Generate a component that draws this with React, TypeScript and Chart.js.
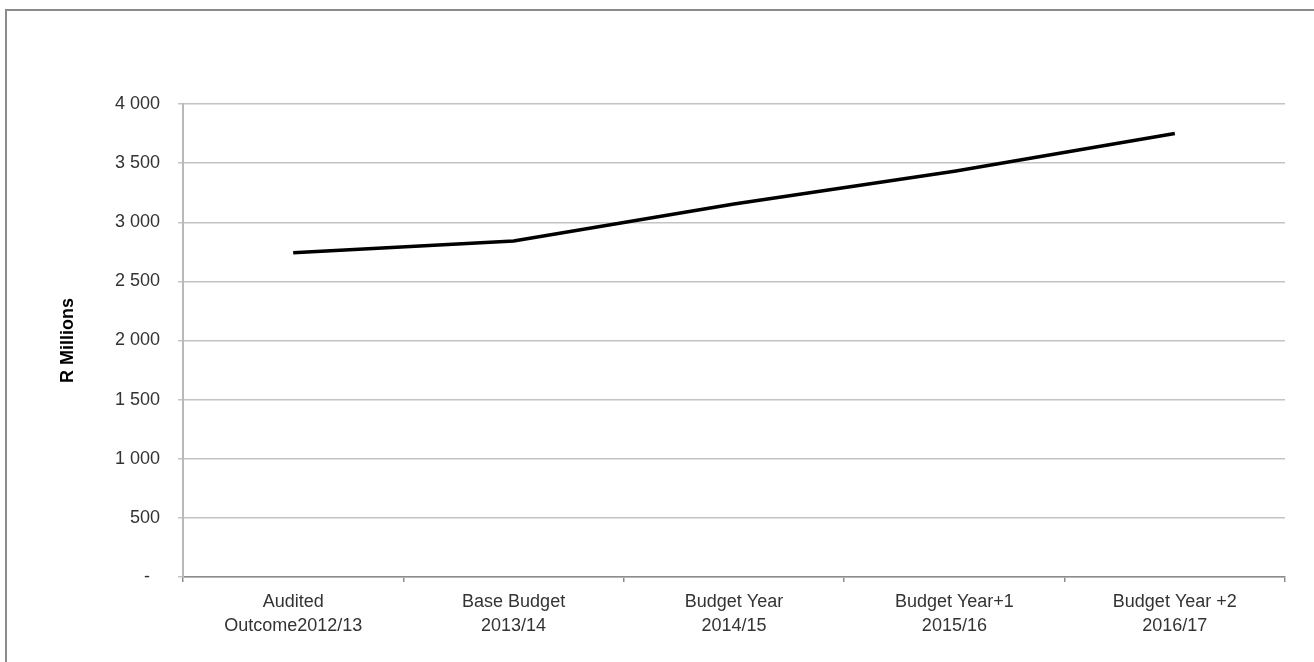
import React, { useEffect, useRef } from "react";
import { Chart, registerables } from "chart.js";

Chart.register(...registerables);

const categories: string[][] = [
  ["Audited", "Outcome2012/13"],
  ["Base Budget", "2013/14"],
  ["Budget Year", "2014/15"],
  ["Budget Year+1", "2015/16"],
  ["Budget Year +2", "2016/17"],
];
const values: number[] = [2743, 2842, 3155, 3432, 3750];
const yMin = 0;
const yMax = 4000;
const yStep = 500;
const yTitle = "R Millions";

const FONT = "'Liberation Sans', Arial, sans-serif";

function fmt(v: number): string {
  if (v === 0) return "-  ";
  return String(v).replace(/\B(?=(\d{3})+(?!\d))/g, " ");
}

export default function App() {
  const ref = useRef<HTMLCanvasElement | null>(null);
  useEffect(() => {
    if (!ref.current) return;
    const chart = new Chart(ref.current, {
      type: "line",
      data: {
        labels: categories,
        datasets: [
          {
            data: values,
            borderColor: "#000000",
            borderWidth: 3.5,
            pointRadius: 0,
            tension: 0,
            fill: false,
          },
        ],
      },
      options: {
        responsive: false,
        animation: false,
        layout: { padding: { left: 0, right: 29, top: 104, bottom: 0 } },
        plugins: { legend: { display: false }, tooltip: { enabled: false } },
        scales: {
          x: {
            offset: true,
            grid: {
              display: true,
              drawOnChartArea: false,
              drawTicks: true,
              tickLength: 5,
              offset: true,
              color: "#8c8c8c",
              lineWidth: 1.5,
            },
            border: { display: true, color: "#8c8c8c", width: 1.5 },
            ticks: {
              color: "#333333",
              font: { family: FONT, size: 18, lineHeight: 1.28 },
              padding: 9,
              maxRotation: 0,
              autoSkip: false,
            },
            afterFit: (s: any) => {
              s.height = 85;
            },
          },
          y: {
            min: yMin,
            max: yMax,
            grid: {
              color: "#c4c4c4",
              lineWidth: 1.5,
              tickLength: 5,
              drawTicks: true,
            },
            border: { display: true, color: "#b8b8b8", width: 2 },
            ticks: {
              stepSize: yStep,
              color: "#333333",
              font: { family: FONT, size: 18 },
              padding: 18,
              callback: (v: any) => fmt(Number(v)),
            },
            title: {
              display: true,
              text: yTitle,
              color: "#000000",
              font: { family: FONT, size: 18, weight: "bold" },
              padding: { top: 57, bottom: 0 },
            },
            afterFit: (s: any) => {
              s.width = 183;
            },
          },
        },
      },
    });
    return () => chart.destroy();
  }, []);

  return (
    <div style={{ position: "fixed", left: 0, top: 0, width: 1314, height: 662, background: "#fff" }}>
      <div
        style={{
          position: "absolute",
          left: 5,
          top: 9,
          width: 1400,
          height: 700,
          borderLeft: "2px solid #8c8c8c",
          borderTop: "2px solid #8c8c8c",
        }}
      />
      <canvas
        ref={ref}
        width={1314}
        height={662}
        style={{ position: "absolute", left: 0, top: 0, width: 1314, height: 662 }}
      />
    </div>
  );
}
